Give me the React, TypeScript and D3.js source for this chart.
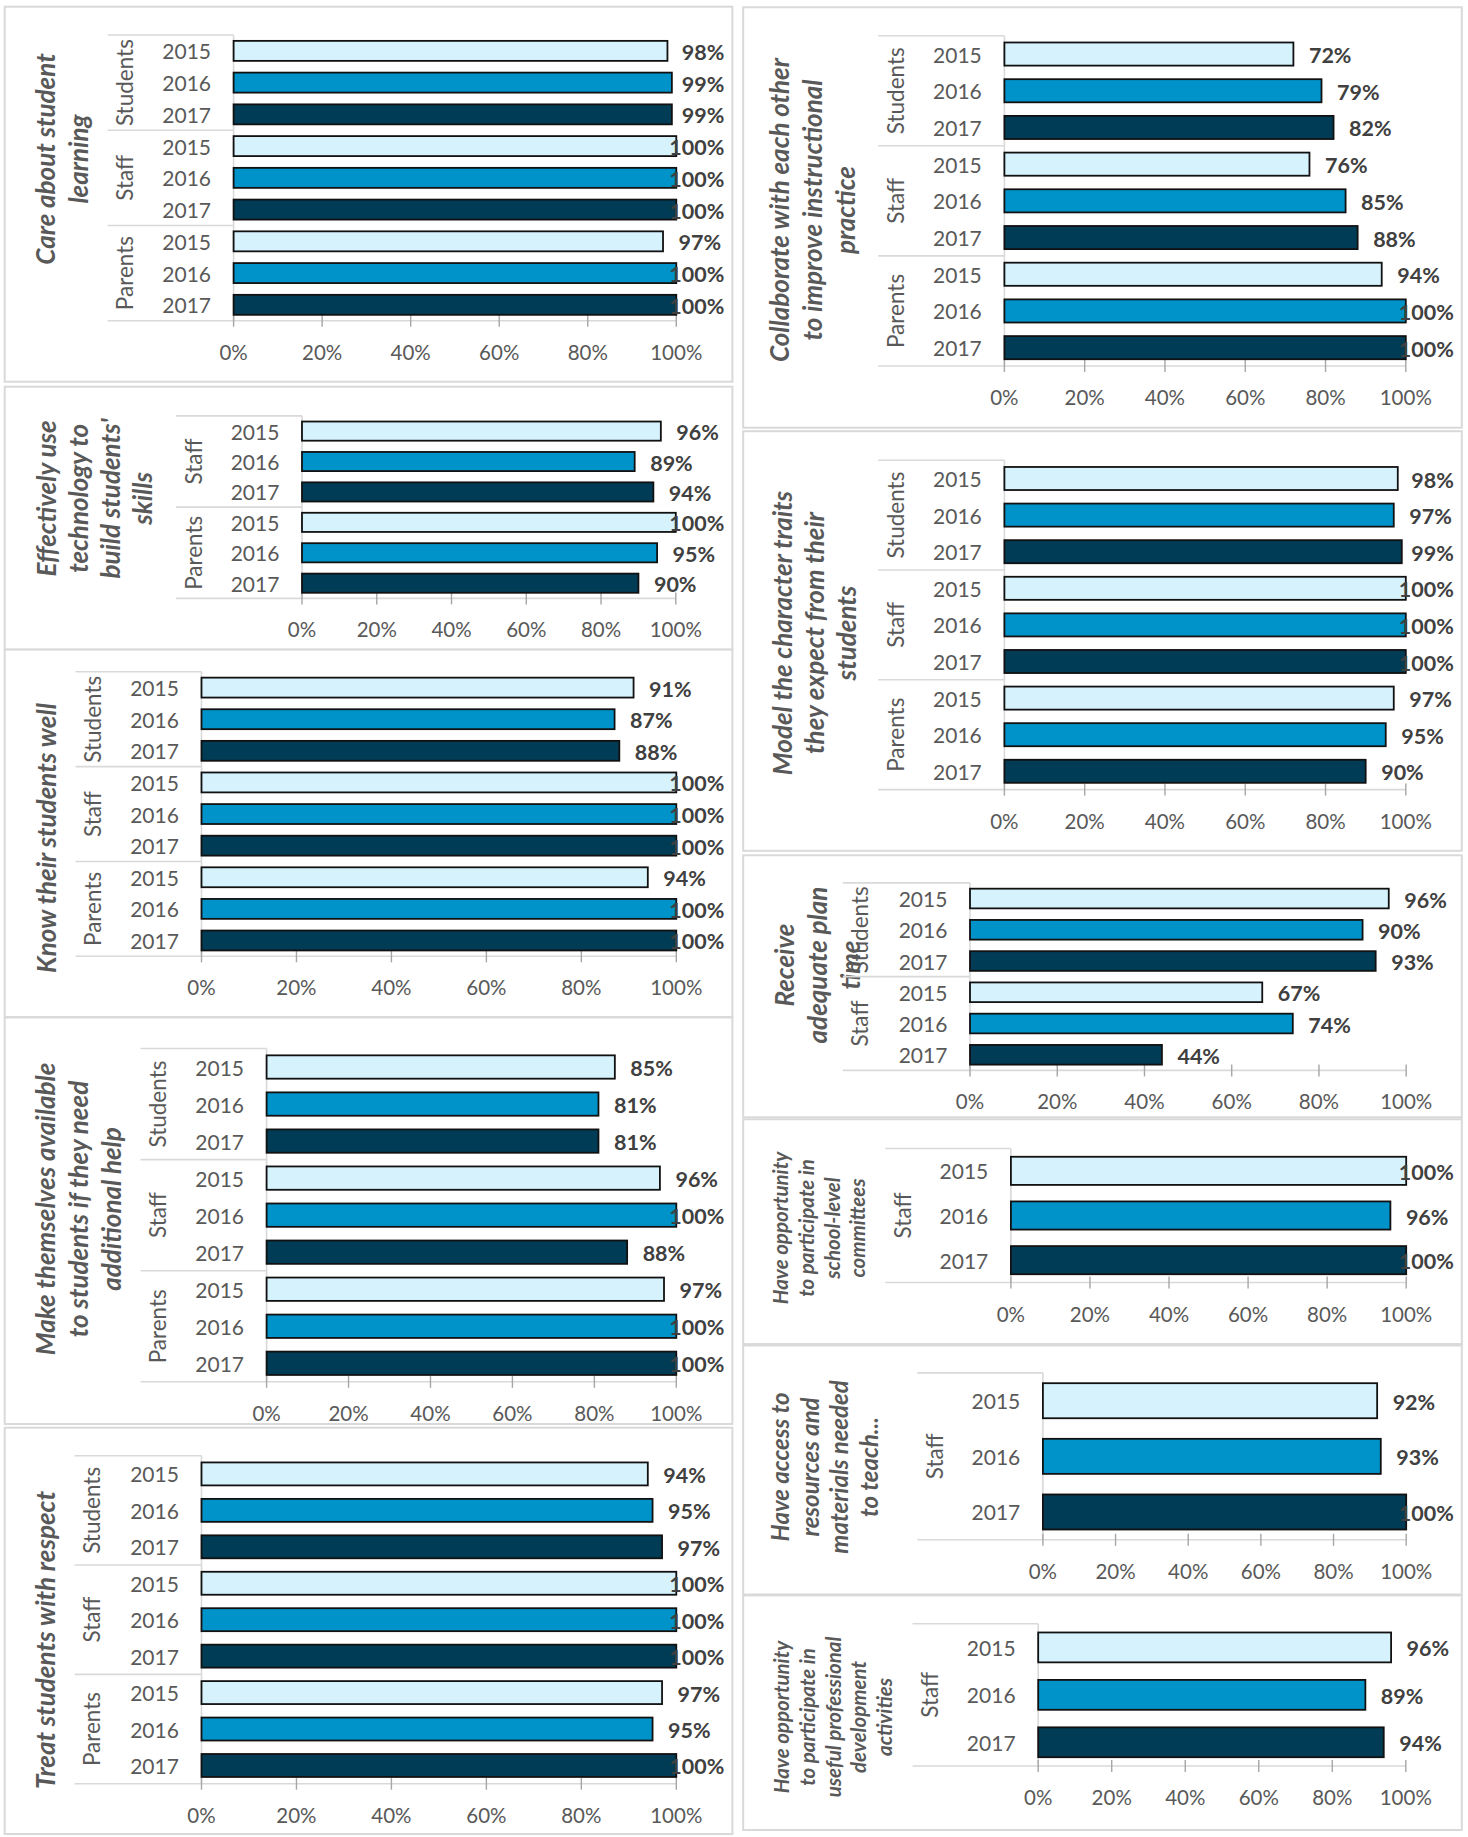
import * as d3 from "d3";

const YEARS = ["2015", "2016", "2017"];
const TICKS = [0, 20, 40, 60, 80, 100];
const YEAR_COLORS = ["#D6F2FD", "#0093C9", "#003C55"];

// left column
const careTitle = ["Care about student", "learning"];
const careGroups = ["Students", "Staff", "Parents"];
const careValues = [[98, 99, 99], [100, 100, 100], [97, 100, 100]];

const techTitle = ["Effectively use", "technology to", "build students'", "skills"];
const techGroups = ["Staff", "Parents"];
const techValues = [[96, 89, 94], [100, 95, 90]];

const knowTitle = ["Know their students well"];
const knowGroups = ["Students", "Staff", "Parents"];
const knowValues = [[91, 87, 88], [100, 100, 100], [94, 100, 100]];

const helpTitle = ["Make themselves available", "to students if they need", "additional help"];
const helpGroups = ["Students", "Staff", "Parents"];
const helpValues = [[85, 81, 81], [96, 100, 88], [97, 100, 100]];

const respectTitle = ["Treat students with respect"];
const respectGroups = ["Students", "Staff", "Parents"];
const respectValues = [[94, 95, 97], [100, 100, 100], [97, 95, 100]];

// right column
const collabTitle = ["Collaborate with each other", "to improve instructional", "practice"];
const collabGroups = ["Students", "Staff", "Parents"];
const collabValues = [[72, 79, 82], [76, 85, 88], [94, 100, 100]];

const modelTitle = ["Model the character traits", "they expect from their", "students"];
const modelGroups = ["Students", "Staff", "Parents"];
const modelValues = [[98, 97, 99], [100, 100, 100], [97, 95, 90]];

const planTitle = ["Receive", "adequate plan", "time"];
const planGroups = ["Students", "Staff"];
const planValues = [[96, 90, 93], [67, 74, 44]];

const committeeTitle = ["Have opportunity", "to participate in", "school-level", "committees"];
const committeeGroups = ["Staff"];
const committeeValues = [[100, 96, 100]];

const resourceTitle = ["Have access to", "resources and", "materials needed", "to teach..."];
const resourceGroups = ["Staff"];
const resourceValues = [[92, 93, 100]];

const pdTitle = ["Have opportunity", "to participate in", "useful professional", "development", "activities"];
const pdGroups = ["Staff"];
const pdValues = [[96, 89, 94]];

type Layout = {
  box: [number, number, number, number];
  x0: number;
  x1: number;
  top: number;
  bottom: number;
  catLeft: number;
  titleX: number;
  titleY: number;
  titleGap: number;
  titleSize: number;
};

type PanelSpec = Layout & {
  title: string[];
  groups: string[];
  values: number[][];
};

const LX0 = 4.7;
const LX1 = 732.4;
const RX0 = 743.2;
const RX1 = 1461.8;

const panels: PanelSpec[] = [
  {
    title: careTitle, groups: careGroups, values: careValues,
    box: [LX0, 6.7, LX1, 381.7], x0: 233.6, x1: 676.3, top: 35, bottom: 320.7, catLeft: 107.6,
    titleX: 61.3, titleY: 159, titleGap: 33, titleSize: 26,
  },
  {
    title: techTitle, groups: techGroups, values: techValues,
    box: [LX0, 386.7, LX1, 649.6], x0: 302, x1: 675.8, top: 415.9, bottom: 598.4, catLeft: 176,
    titleX: 93.7, titleY: 498.4, titleGap: 32, titleSize: 26,
  },
  {
    title: knowTitle, groups: knowGroups, values: knowValues,
    box: [LX0, 649.6, LX1, 1017], x0: 201.5, x1: 676.3, top: 671.8, bottom: 956.3, catLeft: 75.5,
    titleX: 45.8, titleY: 838, titleGap: 33, titleSize: 26,
  },
  {
    title: helpTitle, groups: helpGroups, values: helpValues,
    box: [LX0, 1017.5, LX1, 1424], x0: 266.6, x1: 676.3, top: 1048.5, bottom: 1381.8, catLeft: 140.6,
    titleX: 77.9, titleY: 1209, titleGap: 33, titleSize: 26,
  },
  {
    title: respectTitle, groups: respectGroups, values: respectValues,
    box: [LX0, 1427.7, LX1, 1834], x0: 201.5, x1: 676.3, top: 1455.7, bottom: 1783.7, catLeft: 74.6,
    titleX: 44.8, titleY: 1640, titleGap: 33, titleSize: 26,
  },
  {
    title: collabTitle, groups: collabGroups, values: collabValues,
    box: [RX0, 7.3, RX1, 427.7], x0: 1004.4, x1: 1405.8, top: 35.7, bottom: 366, catLeft: 878.2,
    titleX: 811.5, titleY: 210, titleGap: 33, titleSize: 26,
  },
  {
    title: modelTitle, groups: modelGroups, values: modelValues,
    box: [RX0, 431.2, RX1, 850.8], x0: 1004.4, x1: 1405.8, top: 460.2, bottom: 789.6, catLeft: 878.2,
    titleX: 813.5, titleY: 633, titleGap: 32, titleSize: 26,
  },
  {
    title: planTitle, groups: planGroups, values: planValues,
    box: [RX0, 855.3, RX1, 1117.3], x0: 970, x1: 1406.2, top: 882.9, bottom: 1070.4, catLeft: 842.9,
    titleX: 817, titleY: 965, titleGap: 33, titleSize: 26,
  },
  {
    title: committeeTitle, groups: committeeGroups, values: committeeValues,
    box: [RX0, 1119.3, RX1, 1344.1], x0: 1010.9, x1: 1406.2, top: 1148.5, bottom: 1282.5, catLeft: 885.3,
    titleX: 818.8, titleY: 1228, titleGap: 25.6, titleSize: 20.5,
  },
  {
    title: resourceTitle, groups: resourceGroups, values: resourceValues,
    box: [RX0, 1345.5, RX1, 1594.5], x0: 1042.9, x1: 1406.2, top: 1372.9, bottom: 1539.8, catLeft: 917.3,
    titleX: 824.1, titleY: 1467, titleGap: 29.8, titleSize: 24,
  },
  {
    title: pdTitle, groups: pdGroups, values: pdValues,
    box: [RX0, 1595.4, RX1, 1830], x0: 1038.2, x1: 1405.8, top: 1623.7, bottom: 1766, catLeft: 912.6,
    titleX: 832.6, titleY: 1717, titleGap: 25.9, titleSize: 20.5,
  },
];

const FONT = "Lato, 'Open Sans', sans-serif";
const LABEL_COLOR = "#595959";
const VALUE_FONT_SIZE = 21.5;

let measureCtx: CanvasRenderingContext2D | null = null;
function textWidth(s: string, font: string) {
  if (!measureCtx) measureCtx = document.createElement("canvas").getContext("2d");
  if (!measureCtx) return s.length * 12;
  measureCtx.font = font;
  return measureCtx.measureText(s).width;
}

function Panel({ spec }: { spec: PanelSpec }) {
  const { box, x0, x1, top, bottom, catLeft, groups, values } = spec;

  const xScale = d3.scaleLinear().domain([0, 100]).range([x0, x1]);

  const rows = groups.flatMap((g, gi) =>
    YEARS.map((yr, yi) => ({ key: `${g}-${yr}`, year: yr, yi, value: values[gi][yi] }))
  );

  const yScale = d3
    .scaleBand()
    .domain(rows.map((r) => r.key))
    .range([top, bottom])
    .paddingInner(0.37)
    .paddingOuter(0.185);

  const groupH = (bottom - top) / groups.length;
  const labelLimit = box[2] - 8;

  return (
    <g>
      <rect
        x={box[0]}
        y={box[1]}
        width={box[2] - box[0]}
        height={box[3] - box[1]}
        fill="#fff"
        stroke="#d9d9d9"
        strokeWidth={2}
      />

      {/* title */}
      <g transform={`translate(${spec.titleX},${spec.titleY}) rotate(-90)`}>
        {spec.title.map((line, i) => (
          <text
            key={i}
            x={0}
            y={(i - (spec.title.length - 1) / 2) * spec.titleGap}
            textAnchor="middle"
            dominantBaseline="central"
            fontFamily={FONT}
            fontSize={spec.titleSize}
            fontWeight="bold"
            fontStyle="italic"
            fill={LABEL_COLOR}
          >
            {line}
          </text>
        ))}
      </g>

      {/* category axis lines */}
      {d3.range(groups.length + 1).map((i) => (
        <line
          key={i}
          x1={catLeft}
          x2={i === groups.length ? x1 : x0}
          y1={top + i * groupH}
          y2={top + i * groupH}
          stroke="#d9d9d9"
          strokeWidth={1.6}
        />
      ))}
      <line x1={x0} x2={x0} y1={top} y2={bottom} stroke="#d9d9d9" strokeWidth={1.6} />

      {/* value ticks */}
      {TICKS.map((t) => (
        <g key={t}>
          <line
            x1={xScale(t)}
            x2={xScale(t)}
            y1={bottom - 6}
            y2={bottom + 6}
            stroke="#a6a6a6"
            strokeWidth={1.4}
          />
          <text
            x={xScale(t)}
            y={bottom + 31}
            textAnchor="middle"
            dominantBaseline="central"
            fontFamily={FONT}
            fontSize={20.5}
            fill={LABEL_COLOR}
          >
            {`${t}%`}
          </text>
        </g>
      ))}

      {/* group labels */}
      {groups.map((g, gi) => (
        <text
          key={g}
          transform={`translate(${catLeft + 17},${top + (gi + 0.5) * groupH}) rotate(-90)`}
          textAnchor="middle"
          dominantBaseline="central"
          fontFamily={FONT}
          fontSize={22.5}
          fill={LABEL_COLOR}
        >
          {g}
        </text>
      ))}

      {/* bars */}
      {rows.map((r) => {
        const y = yScale(r.key) ?? 0;
        const bw = yScale.bandwidth();
        const label = `${r.value}%`;
        const w = textWidth(label, `bold ${VALUE_FONT_SIZE}px Lato`);
        const lx = Math.min(xScale(r.value) + 15.5, labelLimit - w);
        return (
          <g key={r.key}>
            <text
              x={x0 - 22.6}
              y={y + bw / 2}
              textAnchor="end"
              dominantBaseline="central"
              fontFamily={FONT}
              fontSize={21}
              fill={LABEL_COLOR}
            >
              {r.year}
            </text>
            <rect
              x={x0}
              y={y}
              width={xScale(r.value) - x0}
              height={bw}
              fill={YEAR_COLORS[r.yi]}
              stroke="#111"
              strokeWidth={1.8}
            />
            <text
              x={lx}
              y={y + bw / 2 + 1}
              dominantBaseline="central"
              fontFamily={FONT}
              fontSize={VALUE_FONT_SIZE}
              fontWeight="bold"
              fill="#404040"
            >
              {label}
            </text>
          </g>
        );
      })}
    </g>
  );
}

export default function App() {
  return (
    <div style={{ position: "absolute", left: 0, top: 0 }}>
      <svg width={1468} height={1837} style={{ display: "block", background: "#fff" }}>
        {panels.map((p, i) => (
          <Panel key={i} spec={p} />
        ))}
      </svg>
    </div>
  );
}
